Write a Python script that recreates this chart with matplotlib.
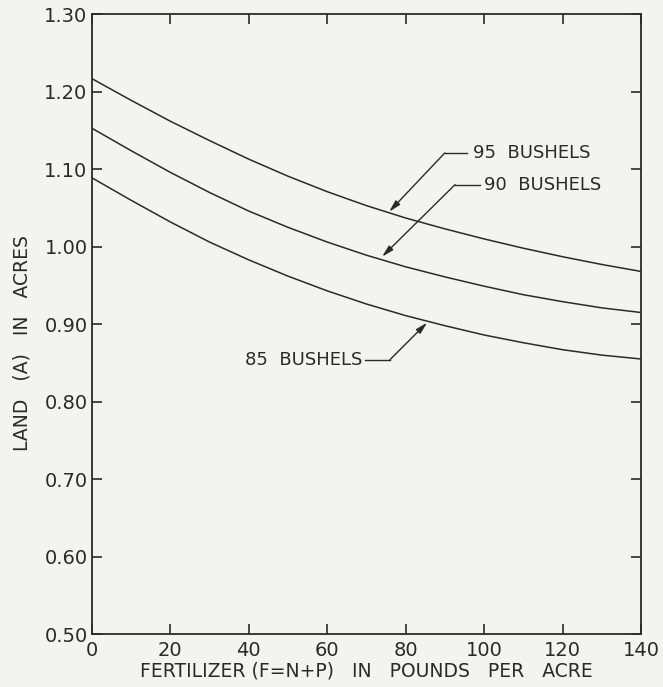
import matplotlib
matplotlib.use("Agg")
import matplotlib.pyplot as plt

# Fertilizer applied (pounds per acre)
fertilizer = [0, 10, 20, 30, 40, 50, 60, 70, 80, 90, 100, 110, 120, 130, 140]

# Land (acres) needed for each yield level
land_95 = [1.217, 1.189, 1.162, 1.137, 1.113, 1.091, 1.071, 1.053, 1.037, 1.023,
           1.010, 0.998, 0.987, 0.977, 0.968]
land_90 = [1.153, 1.124, 1.096, 1.070, 1.046, 1.025, 1.006, 0.989, 0.974, 0.961,
           0.949, 0.938, 0.929, 0.921, 0.915]
land_85 = [1.089, 1.060, 1.032, 1.006, 0.983, 0.962, 0.943, 0.926, 0.911, 0.898,
           0.886, 0.876, 0.867, 0.860, 0.855]

x_ticks = [0, 20, 40, 60, 80, 100, 120, 140]
x_tick_labels = ["0", "20", "40", "60", "80", "100", "120", "140"]
y_ticks = [0.50, 0.60, 0.70, 0.80, 0.90, 1.00, 1.10, 1.20, 1.30]
y_tick_labels = ["0.50", "0.60", "0.70", "0.80", "0.90", "1.00", "1.10", "1.20", "1.30"]

paper = "#f3f3f0"
ink = "#2a2a2a"

fig = plt.figure(figsize=(6.63, 6.87), dpi=100, facecolor=paper)
ax = fig.add_axes([0.1383, 0.0771, 0.8285, 0.9022], facecolor=paper)

for series in (land_95, land_90, land_85):
    ax.plot(fertilizer, series, color=ink, lw=1.1, solid_capstyle="round",
            solid_joinstyle="round")

ax.set_xlim(0, 140)
ax.set_ylim(0.50, 1.30)
ax.set_xticks(x_ticks)
ax.set_xticklabels(x_tick_labels)
ax.set_yticks(y_ticks)
ax.set_yticklabels(y_tick_labels)

ax.tick_params(direction="in", length=7, width=1.2, colors=ink, labelsize=14,
               top=True, right=True, pad=3)
ax.tick_params(axis="x", pad=5)
for sp in ax.spines.values():
    sp.set_color(ink)
    sp.set_linewidth(1.3)

ax.set_xlabel("FERTILIZER (F=N+P)   IN   POUNDS   PER   ACRE", fontsize=13.5,
              color=ink, labelpad=1)
ax.set_ylabel("LAND   (A)   IN   ACRES", fontsize=13.5, color=ink)
ax.yaxis.set_label_coords(-0.11, 0.47)

# Curve labels with leader lines and arrowheads
arrow = dict(arrowstyle="-|>,head_length=0.7,head_width=0.18", color=ink, lw=1.0,
             shrinkA=0, shrinkB=0)
label_size = 13

# 95 bushels
ax.plot([90.0, 95.6], [1.121, 1.121], color=ink, lw=1.0)
ax.annotate("", xy=(75.8, 1.045), xytext=(90.0, 1.121), arrowprops=arrow)
ax.text(97.2, 1.121, "95  BUSHELS", fontsize=label_size, color=ink, ha="left", va="center")

# 90 bushels
ax.plot([92.6, 99.0], [1.080, 1.080], color=ink, lw=1.0)
ax.annotate("", xy=(74.0, 0.987), xytext=(92.6, 1.080), arrowprops=arrow)
ax.text(100.0, 1.080, "90  BUSHELS", fontsize=label_size, color=ink, ha="left", va="center")

# 85 bushels
ax.plot([69.6, 76.0], [0.854, 0.854], color=ink, lw=1.0)
ax.annotate("", xy=(85.5, 0.902), xytext=(76.0, 0.854), arrowprops=arrow)
ax.text(68.9, 0.854, "85  BUSHELS", fontsize=label_size, color=ink, ha="right", va="center")

fig.savefig("out.png", dpi=100, facecolor=paper)
